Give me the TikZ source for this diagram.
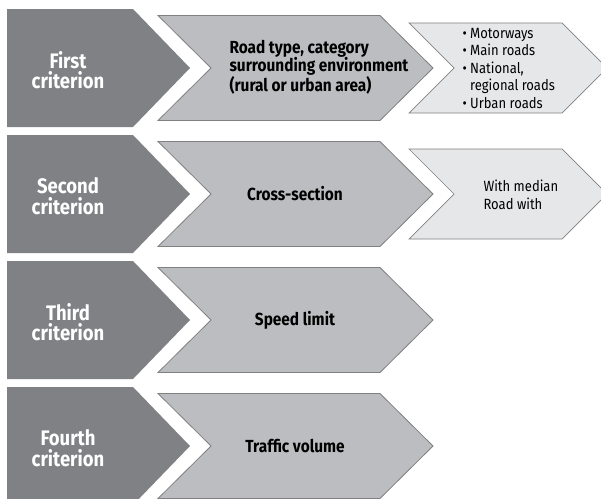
\documentclass[tikz,border=0pt]{standalone}
\usepackage{fontspec}
\setmainfont{Fira Sans}[FakeStretch=0.88]
\usepackage{tikz}

\definecolor{critgray}{RGB}{128,129,132}
\definecolor{catgray}{RGB}{188,189,192}
\definecolor{itemgray}{RGB}{230,231,232}
\definecolor{edgegray}{RGB}{128,128,128}

\tikzset{
  critbox/.style={fill=critgray},
  catbox/.style={draw=edgegray, line width=0.8pt, fill=catgray},
  itembox/.style={draw=edgegray, line width=0.7pt, fill=itemgray},
  crittext/.style={align=center, text=white, font=\fontsize{21}{20.5}\selectfont\bfseries},
  cattext/.style={align=left, font=\fontsize{17.5}{18.5}\selectfont\bfseries},
  itemtext/.style={align=left, font=\fontsize{14.8}{17.5}\selectfont},
}

\begin{document}
\begin{tikzpicture}[x=1pt, y=-1pt]
        \useasboundingbox (0,0) rectangle (601,498);
        \clip (0,0) rectangle (601,498);

        %First criterion
        \fill [critbox] (7,9) -- (133,9) -- (190,68) -- (133,127) -- (7,127) -- cycle;
        \node [crittext] (first) at (68,70) {First\\criterion};
        \draw [catbox] (158,15.5) -- (380,15.5) -- (433,68) -- (380,120.5) -- (158,120.5) -- (211,68) -- cycle;
        \node [cattext, anchor=west] (roadtype) at (226,67) {Road type, category\\surrounding environment\\(rural or urban area)};
        \draw [itembox] (409,23) -- (562,23) -- (607,68) -- (562,113) -- (409,113) -- (454,68) -- cycle;
        \node [itemtext, anchor=west] (roadlist) at (459,68) {• Motorways\\• Main roads\\• National,\\\phantom{• }regional roads\\• Urban roads};

        %Second criterion
        \fill [critbox] (7,135) -- (133,135) -- (190,194) -- (133,253) -- (7,253) -- cycle;
        \node [crittext] (second) at (68,196) {Second\\criterion};
        \draw [catbox] (158,141.5) -- (380,141.5) -- (433,194) -- (380,246.5) -- (158,246.5) -- (211,194) -- cycle;
        \node [cattext] (section) at (295,194) {Cross-section};
        \draw [itembox] (409,149) -- (562,149) -- (607,194) -- (562,239) -- (409,239) -- (454,194) -- cycle;
        \node [itemtext, anchor=west] (median) at (480,195) {With median\\Road with};

        %Third criterion
        \fill [critbox] (7,261) -- (133,261) -- (190,320) -- (133,379) -- (7,379) -- cycle;
        \node [crittext] (third) at (68,322) {Third\\criterion};
        \draw [catbox] (158,267.5) -- (380,267.5) -- (433,320) -- (380,372.5) -- (158,372.5) -- (211,320) -- cycle;
        \node [cattext] (speed) at (295,320) {Speed limit};

        %Fourth criterion
        \fill [critbox] (7,387) -- (133,387) -- (190,446) -- (133,505) -- (7,505) -- cycle;
        \node [crittext] (fourth) at (68,448) {Fourth\\criterion};
        \draw [catbox] (158,393.5) -- (380,393.5) -- (433,446) -- (380,498.5) -- (158,498.5) -- (211,446) -- cycle;
        \node [cattext] (traffic) at (295,446) {Traffic volume};
      \end{tikzpicture}
\end{document}
